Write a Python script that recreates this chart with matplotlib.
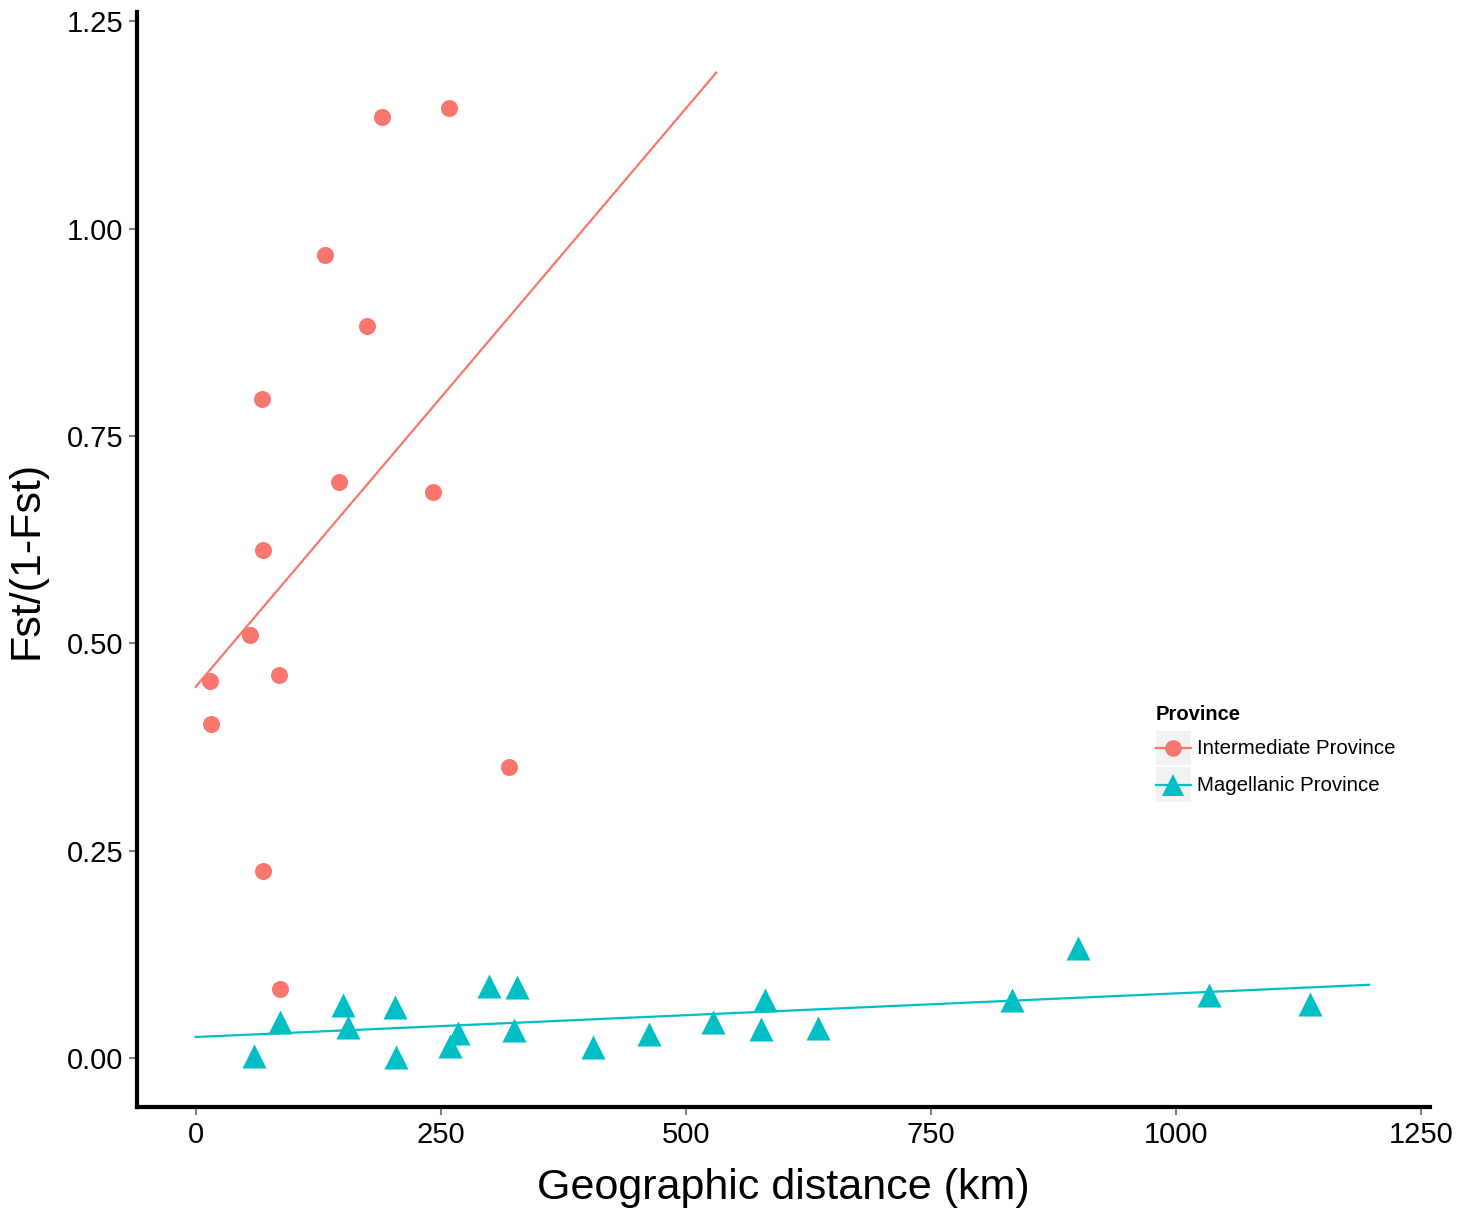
#!/usr/bin/env python3
"""Isolation by distance: Fst/(1-Fst) vs geographic distance, by province."""

import numpy as np
import matplotlib

matplotlib.use("Agg")
import matplotlib.pyplot as plt
from matplotlib.lines import Line2D
from matplotlib.patches import Rectangle
from matplotlib.legend_handler import HandlerLine2D

# Intermediate Province (circles)
inter_km = [15, 16, 55, 85, 69, 68, 69, 86, 132, 146, 175, 190, 258, 242, 320]
inter_fst = [0.454, 0.403, 0.510, 0.462, 0.612, 0.794, 0.225, 0.083,
             0.968, 0.694, 0.882, 1.135, 1.145, 0.683, 0.351]

# Magellanic Province (triangles)
mag_km = [59, 86, 150, 155, 203, 204, 259, 267, 299, 328, 325, 405, 462,
          528, 581, 577, 635, 833, 900, 1034, 1137]
mag_fst = [0.002, 0.043, 0.064, 0.037, 0.061, 0.001, 0.014, 0.030, 0.087,
           0.086, 0.034, 0.013, 0.029, 0.043, 0.070, 0.035, 0.036, 0.070,
           0.133, 0.076, 0.065]

# x range over which each regression line is drawn
inter_fit_range = [0, 531]
mag_fit_range = [0, 1197]

RED = "#F8766D"
TEAL = "#00BFC4"
KEY_BG = "#F2F2F2"

plt.rcParams["font.family"] = ["Liberation Sans", "DejaVu Sans"]


class HandlerKeyBox(HandlerLine2D):
    """Line+marker legend key drawn centred on a grey square, ggplot style."""

    def create_artists(self, legend, orig_handle, xdescent, ydescent,
                       width, height, fontsize, trans):
        box = Rectangle((-xdescent, -ydescent), width, height,
                        facecolor=KEY_BG, edgecolor="none", transform=trans)
        # doubling ydescent puts the line at the vertical centre of the box
        arts = super().create_artists(legend, orig_handle, xdescent,
                                      2 * ydescent, width, height,
                                      fontsize, trans)
        return [box] + list(arts)


fig = plt.figure(figsize=(14.71, 12.08), dpi=100)
ax = fig.add_axes([0.0931, 0.0836, 0.8790, 0.9064])


def fit_line(x, y, rng):
    slope, icept = np.polyfit(x, y, 1)
    xs = np.array(rng, dtype=float)
    return xs, icept + slope * xs


xs, ys = fit_line(inter_km, inter_fst, inter_fit_range)
ax.plot(xs, ys, color=RED, lw=1.6, zorder=2)
xs, ys = fit_line(mag_km, mag_fst, mag_fit_range)
ax.plot(xs, ys, color=TEAL, lw=1.6, zorder=2)

ax.scatter(inter_km, inter_fst, s=150, marker="o", color=RED, lw=0, zorder=3)
ax.scatter(mag_km, mag_fst, s=300, marker="^", color=TEAL, lw=0, zorder=3)

ax.set_xlim(-60, 1259)
ax.set_ylim(-0.059, 1.261)
ax.set_xticks([0, 250, 500, 750, 1000, 1250])
ax.set_yticks([0.0, 0.25, 0.5, 0.75, 1.0, 1.25])
ax.set_yticklabels(["0.00", "0.25", "0.50", "0.75", "1.00", "1.25"])
ax.tick_params(axis="both", labelsize=21, color="#7f7f7f", length=6,
               width=1.5, pad=4)

for side in ("top", "right"):
    ax.spines[side].set_visible(False)
for side in ("left", "bottom"):
    ax.spines[side].set_linewidth(3)
    ax.spines[side].set_color("black")

ax.set_xlabel("Geographic distance (km)", fontsize=31, labelpad=14)
ax.set_ylabel("Fst/(1-Fst)", fontsize=31, labelpad=14)

handles = [
    Line2D([], [], color=RED, lw=1.6, marker="o", markersize=12,
           markeredgewidth=0, label="Intermediate Province"),
    Line2D([], [], color=TEAL, lw=1.6, marker="^", markersize=16,
           markeredgewidth=0, label="Magellanic Province"),
]
leg = ax.legend(handles=handles, title="Province", loc="upper left",
                bbox_to_anchor=(0.788, 0.3675), frameon=False, fontsize=14.7,
                title_fontproperties={"weight": "bold", "size": 14.5},
                handlelength=1.7, handleheight=2.24, handletextpad=0.34,
                labelspacing=0.1, borderaxespad=0, borderpad=0,
                handler_map={Line2D: HandlerKeyBox(marker_pad=0)})
leg._legend_box.align = "left"
leg._legend_box.sep = 5.1  # gap between title and keys, points

fig.savefig("out.png", dpi=100)
plt.close(fig)
